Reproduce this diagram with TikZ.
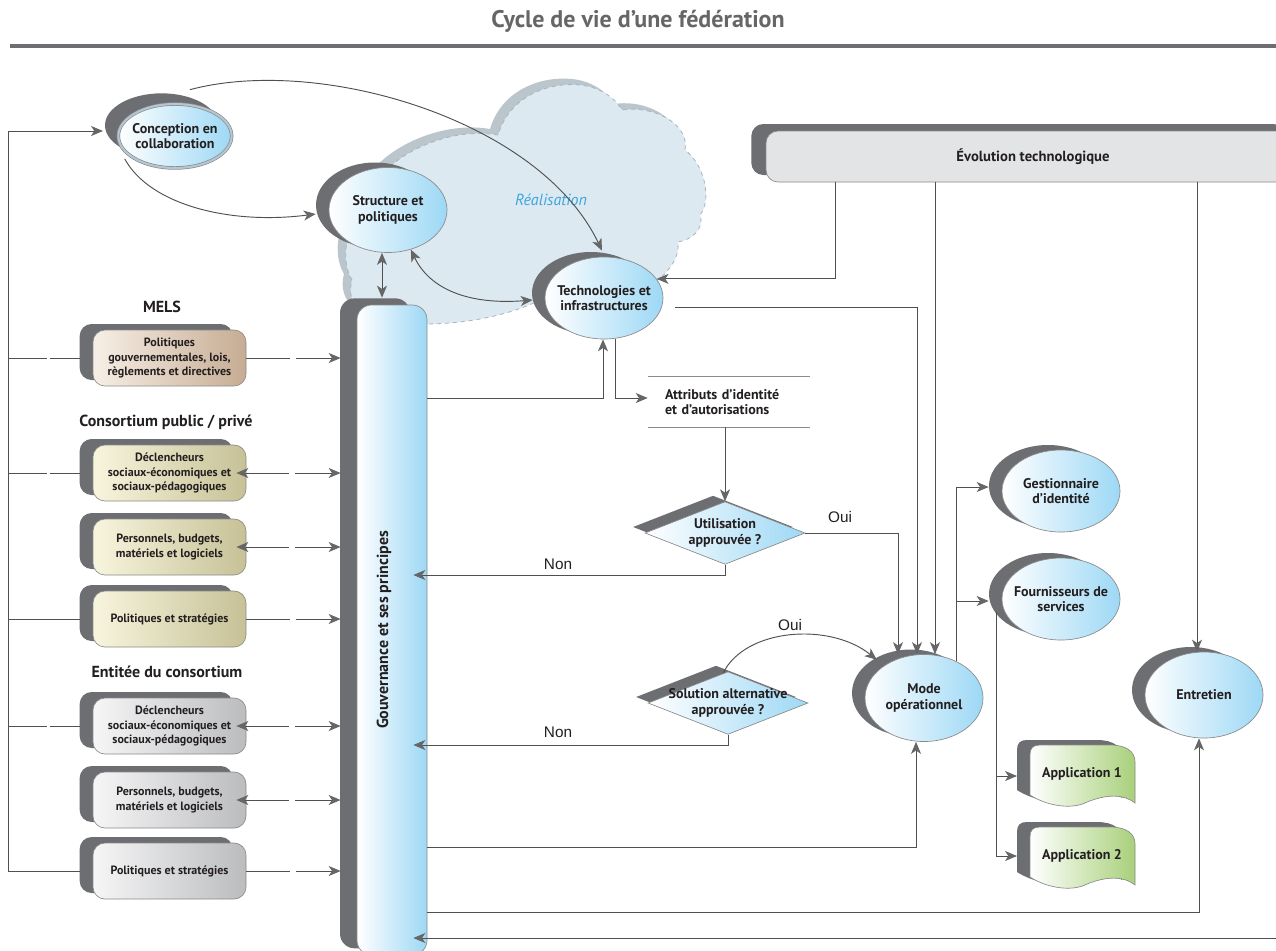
\documentclass[tikz,border=0pt]{standalone}
\usepackage{fontspec}
\setmainfont{PT Sans}
\newfontfamily\helv{Liberation Sans}
\usetikzlibrary{shapes.geometric,arrows.meta,calc,shadows}
\definecolor{shadowgray}{HTML}{6D6E71}
\definecolor{edgegray}{HTML}{8A8A8A}
\definecolor{ellblue}{HTML}{9DD8F5}
\definecolor{melsL}{HTML}{F7EFE6}
\definecolor{melsR}{HTML}{C6AC93}
\definecolor{consL}{HTML}{F8F5DE}
\definecolor{consR}{HTML}{C6C196}
\definecolor{entL}{HTML}{F6F6F7}
\definecolor{entR}{HTML}{BBBCBE}
\definecolor{evofill}{HTML}{E3E4E6}
\definecolor{cloudfill}{HTML}{DCE9F1}
\definecolor{cloudedge}{HTML}{A9B5BD}
\definecolor{cloudshadow}{HTML}{BAC5CC}
\definecolor{appgreen}{HTML}{A8D07A}
\definecolor{linec}{HTML}{505050}
\definecolor{arrowc}{HTML}{666666}
\definecolor{txt}{HTML}{231F20}
\definecolor{titlegray}{HTML}{666666}
\definecolor{realblue}{HTML}{3DA5DD}
\definecolor{ringc}{HTML}{B4C6D2}
\newcommand\nf{\fontsize{10.5}{11.6}\selectfont\bfseries}
\newcommand\boxfont{\fontsize{9}{10.8}\selectfont\bfseries}
\newcommand\secfont{\fontsize{12}{14}\selectfont\bfseries}
\newcommand\cloudpath{(395,322)
 .. controls (365,325) and (345,305) .. (352,280)
 .. controls (340,260) and (345,225) .. (368,205)
 .. controls (370,165) and (440,125) .. (498,135)
 .. controls (510,95) and (550,82) .. (580,85)
 .. controls (600,87) and (615,98) .. (622,110)
 .. controls (655,105) and (690,125) .. (685,150)
 .. controls (705,165) and (712,200) .. (700,215)
 .. controls (705,230) and (690,240) .. (678,242)
 .. controls (680,260) and (665,275) .. (655,282)
 -- (540,300)
 .. controls (500,320) and (440,328) .. (395,322) -- cycle}
\newcommand\apppath{(-52,-19) .. controls (-52,-26) and (-49,-29) .. (-42,-29) -- (28,-29)
 .. controls (45,-29) and (53,-22) .. (53,-12) -- (53,29)
 .. controls (42,20) and (25,20) .. (5,28)
 .. controls (-10,36) and (-35,32) .. (-52,21) -- cycle}
\tikzset{
  mytip/.tip={Stealth[length=9pt,width=7.5pt,inset=2.5pt,color=arrowc]},
  ln/.style={draw=linec, line width=0.7pt},
  arr/.style={ln, -mytip},
  darr/.style={ln, mytip-mytip},
  dashL/.style={dash pattern=on 29pt off 2.5pt on 200pt},
  dashR/.style={dash pattern=on 33pt off 4.5pt on 200pt},
  ell/.style={ellipse, draw=edgegray, line width=0.5pt, left color=white, right color=ellblue,
    minimum width=88.5pt, minimum height=#1, inner sep=0pt,
    general shadow={fill=shadowgray, shadow xshift=-9.75pt, shadow yshift=3.75pt}},
  lbl/.style={font=\nf, align=center, text=txt},
  bx/.style={rectangle, rounded corners=9pt, draw=edgegray, line width=0.5pt,
    minimum width=114.75pt, minimum height=42pt, inner sep=1pt, align=center, font=\boxfont, text=txt,
    general shadow={fill=shadowgray, shadow xshift=-10pt, shadow yshift=4.5pt}},
  mels/.style={bx, left color=melsL, right color=melsR},
  cons/.style={bx, left color=consL, right color=consR},
  ent/.style={bx, left color=entL, right color=entR},
  dia/.style={diamond, draw=edgegray, line width=0.5pt, left color=white, right color=ellblue,
    minimum width=120pt, minimum height=47pt, inner sep=0pt,
    general shadow={fill=shadowgray, shadow xshift=-9pt, shadow yshift=4.5pt}},
  sect/.style={font=\secfont, text=txt},
  yesno/.style={font=\helv\fontsize{11.5}{13}\selectfont, text=txt},
}
\newcommand\appdoc[3]{%
  \begin{scope}[shift={#2}]
    \fill[shadowgray, shift={(-13,-5)}] \apppath;
    \shade[left color=white, right color=appgreen, draw=edgegray, line width=0.5pt] \apppath;
  \end{scope}
  \node[lbl] (#1) at #2 {#3};}
\begin{document}
\begin{tikzpicture}[x=0.75pt,y=-0.75pt]
\useasboundingbox[fill=white] (0,0) rectangle (1276,950);
% title
\node[font=\bfseries\fontsize{18}{20}\selectfont, text=titlegray] (title) at (638,21) {Cycle de vie d’une fédération};
\draw[line width=3pt, draw=shadowgray] (10,46) -- (1276,46);
% cloud
\fill[cloudshadow, shift={(-8,-6)}] \cloudpath;
\fill[cloudfill] \cloudpath;
\draw[cloudedge, dashed, line width=0.6pt] \cloudpath;
\node[font=\itshape\fontsize{12}{14}\selectfont, text=realblue] (real) at (551,200) {Réalisation};
% ellipses
\node[ellipse, draw=edgegray, line width=0.5pt, double=ringc, double distance=1.6pt,
  left color=white, right color=ellblue, minimum width=85pt, minimum height=48pt, inner sep=0pt,
  general shadow={fill=shadowgray, shadow xshift=-10pt, shadow yshift=8pt}] (concept) at (175,136) {};
\node[lbl] (conceptt) at (concept) {Conception en\\collaboration};
\node[ell=63.75pt] (struct) at (388,210) {};
\node[lbl] (structt) at (struct) {Structure et\\politiques};
\node[ell=61.5pt] (tech) at (604,298) {};
\node[lbl] (techt) at (tech) {Technologies et\\infrastructures};
\node[ell=61.5pt] (gest) at (1061,491) {};
\node[lbl] (gestt) at (gest) {Gestionnaire\\d’identité};
\node[ell=61.5pt] (fourn) at (1061,599) {};
\node[lbl] (fournt) at (fourn) {Fournisseurs de\\services};
\node[ell=65.25pt] (mode) at (924,698) {};
\node[lbl] (modet) at (mode) {Mode\\opérationnel};
\node[ell=64.5pt] (entr) at (1204,695) {};
\node[lbl] (entrt) at (entr) {Entretien};
% evolution bar
\node[rectangle, rounded corners=9pt, draw=edgegray, line width=0.5pt, fill=evofill,
  minimum width=400.5pt, minimum height=38.25pt, font=\bfseries\fontsize{11}{13}\selectfont, text=txt,
  general shadow={fill=shadowgray, shadow xshift=-11pt, shadow yshift=5.25pt}] (evo) at (1033,156.5) {Évolution technologique};
% governance bar
\node[rectangle, rounded corners=11pt, draw=edgegray, line width=0.5pt, left color=white, right color=ellblue,
  minimum width=52.5pt, minimum height=487.5pt, inner sep=0pt,
  general shadow={fill=shadowgray, shadow xshift=-12.75pt, shadow yshift=5pt}] (gov) at (392,630) {};
\node[font=\secfont, text=txt, rotate=90] (govt) at (384,630) {Gouvernance et ses principes};
% section titles and boxes
\node[sect] (s1) at (162,307) {MELS};
\node[mels] (polgov) at (169.5,358) {Politiques\\gouvernementales, lois,\\règlements et directives};
\node[sect] (s2) at (166,422) {Consortium public / privé};
\node[cons] (decl1) at (169.5,473) {Déclencheurs\\sociaux-économiques et\\sociaux-pédagogiques};
\node[cons] (pers1) at (169.5,547) {Personnels, budgets,\\matériels et logiciels};
\node[cons] (pol1) at (169.5,619) {Politiques et stratégies};
\node[sect] (s3) at (167,672) {Entitée du consortium};
\node[ent] (decl2) at (169.5,726) {Déclencheurs\\sociaux-économiques et\\sociaux-pédagogiques};
\node[ent] (pers2) at (169.5,800) {Personnels, budgets,\\matériels et logiciels};
\node[ent] (pol2) at (169.5,871) {Politiques et stratégies};
% attributes
\node[align=left, text width=96pt, inner xsep=12.75pt, minimum height=37.5pt, font=\nf, text=txt] (attr) at (729,402) {Attributs d’identité\\et d’autorisations};
\draw[draw=edgegray, line width=0.6pt] (attr.north west) -- (attr.north east);
\draw[draw=edgegray, line width=0.6pt] (attr.south west) -- (attr.south east);
% diamonds
\node[dia] (dia1) at (725,533) {};
\node[lbl] (dia1t) at (dia1) {Utilisation\\approuvée ?};
\node[dia] (dia2) at (728,703) {};
\node[lbl] (dia2t) at (dia2) {Solution alternative\\approuvée ?};
% applications
\appdoc{app1}{(1082,774)}{Application 1}
\appdoc{app2}{(1082,856)}{Application 2}
% ---- connectors ----
\coordinate (Ltop) at (8,131);
\draw[ln] (Ltop) -- (Ltop |- pol2.west);
\draw[arr] (Ltop) -- ($(Ltop -| concept.west)+(-15,0)$);
\draw[ln, dashL] (Ltop |- polgov.west) -- ($(polgov.west)+(-13,0)$);
\draw[ln, dashL] (Ltop |- decl1.west) -- ($(decl1.west)+(-13,0)$);
\draw[ln] (Ltop |- pol1.west) -- ($(pol1.west)+(-13,0)$);
\draw[ln, dashL] (Ltop |- decl2.west) -- ($(decl2.west)+(-13,0)$);
\draw[ln] (Ltop |- pol2.west) -- ($(pol2.west)+(-13,0)$);
\draw[arr, dashR] (polgov.east) -- ($(polgov.east -| gov.west)+(-16,0)$);
\draw[darr, dashR] ($(decl1.east)+(-10,0)$) -- ($(decl1.east -| gov.west)+(-16,0)$);
\draw[darr, dashR] ($(pers1.east)+(-10,0)$) -- ($(pers1.east -| gov.west)+(-16,0)$);
\draw[arr, dashR] (pol1.east) -- ($(pol1.east -| gov.west)+(-16,0)$);
\draw[darr, dashR] ($(decl2.east)+(-10,0)$) -- ($(decl2.east -| gov.west)+(-16,0)$);
\draw[darr, dashR] ($(pers2.east)+(-10,0)$) -- ($(pers2.east -| gov.west)+(-16,0)$);
\draw[arr, dashR] (pol2.east) -- ($(pol2.east -| gov.west)+(-16,0)$);
% top curves
\draw[arr] ($(concept.north)+(15,-14)$) .. controls (320,55) and (540,120) .. ($(tech.north)+(-2,-6)$);
\draw[arr] ($(concept.south west)+(-10,0)$) .. controls (150,205) and (230,225) .. ($(struct.west)+(-13,4)$);
\draw[darr] ($(struct.south)+(-6,0)$) -- ($(gov.north)+(-10,-7)$);
\draw[darr] (struct.-60) .. controls (430,290) and (470,305) .. ($(tech.west)+(-12,2)$);
% evolution
\draw[arr] (835,0 |- evo.south) |- (tech.20);
\draw[arr] (935,0 |- evo.south) -- (935,0 |- mode.north);
\draw[arr] (1197,0 |- evo.south) -- (1197,0 |- entr.north);
% technologies
\draw[arr] ($(tech.east)+(12,9)$) -| (917,0 |- mode.north);
\draw[arr] ($(tech.south)+(11,0)$) |- ($(attr.west)+(0,-4)$);
\draw[arr] (gov.east |- 0,398) -| ($(tech.south)+(-1,0)$);
\draw[arr] (attr.south -| dia1.north) -- (dia1.north);
% decisions
\draw[arr] (dia1.east) -| (898,0 |- mode.north);
\node[yesno] (oui1) at (840,517) {Oui};
\draw[arr] (dia1.south) |- ($(gov.east |- 0,575)+(-14,0)$);
\node[yesno] (non1) at (558,564) {Non};
\draw[arr] ($(dia2.north)+(-5,2)$) .. controls (745,628) and (830,622) .. ($(mode.135)+(-12,-3)$);
\node[yesno] (oui2) at (790,625) {Oui};
\draw[arr] (dia2.south) |- ($(gov.east |- 0,745)+(-14,0)$);
\node[yesno] (non2) at (558,732) {Non};
% governance outputs
\draw[arr] (gov.east |- 0,847) -| ($(mode.south)+(-8,0)$);
\draw[arr] (gov.east |- 0,912) -| ($(entr.south)+(-5,0)$);
\coordinate (rin) at (1280,938);
\draw[arr] (rin) -- ($(gov.east |- rin)+(-14,0)$);
% mode outputs
\draw[arr] ($(mode.north)+(32,7)$) |- ($(gest.west)+(-13,-4)$);
\draw[arr] ($(mode.north)+(32,7)$) |- ($(fourn.west)+(-13,2)$);
\draw[arr] ($(fourn.west)+(-5,13)$) |- ($(app1)+(-65,2)$);
\draw[arr] ($(fourn.west)+(-5,13)$) |- ($(app2)+(-65,0)$);
\end{tikzpicture}
\end{document}
